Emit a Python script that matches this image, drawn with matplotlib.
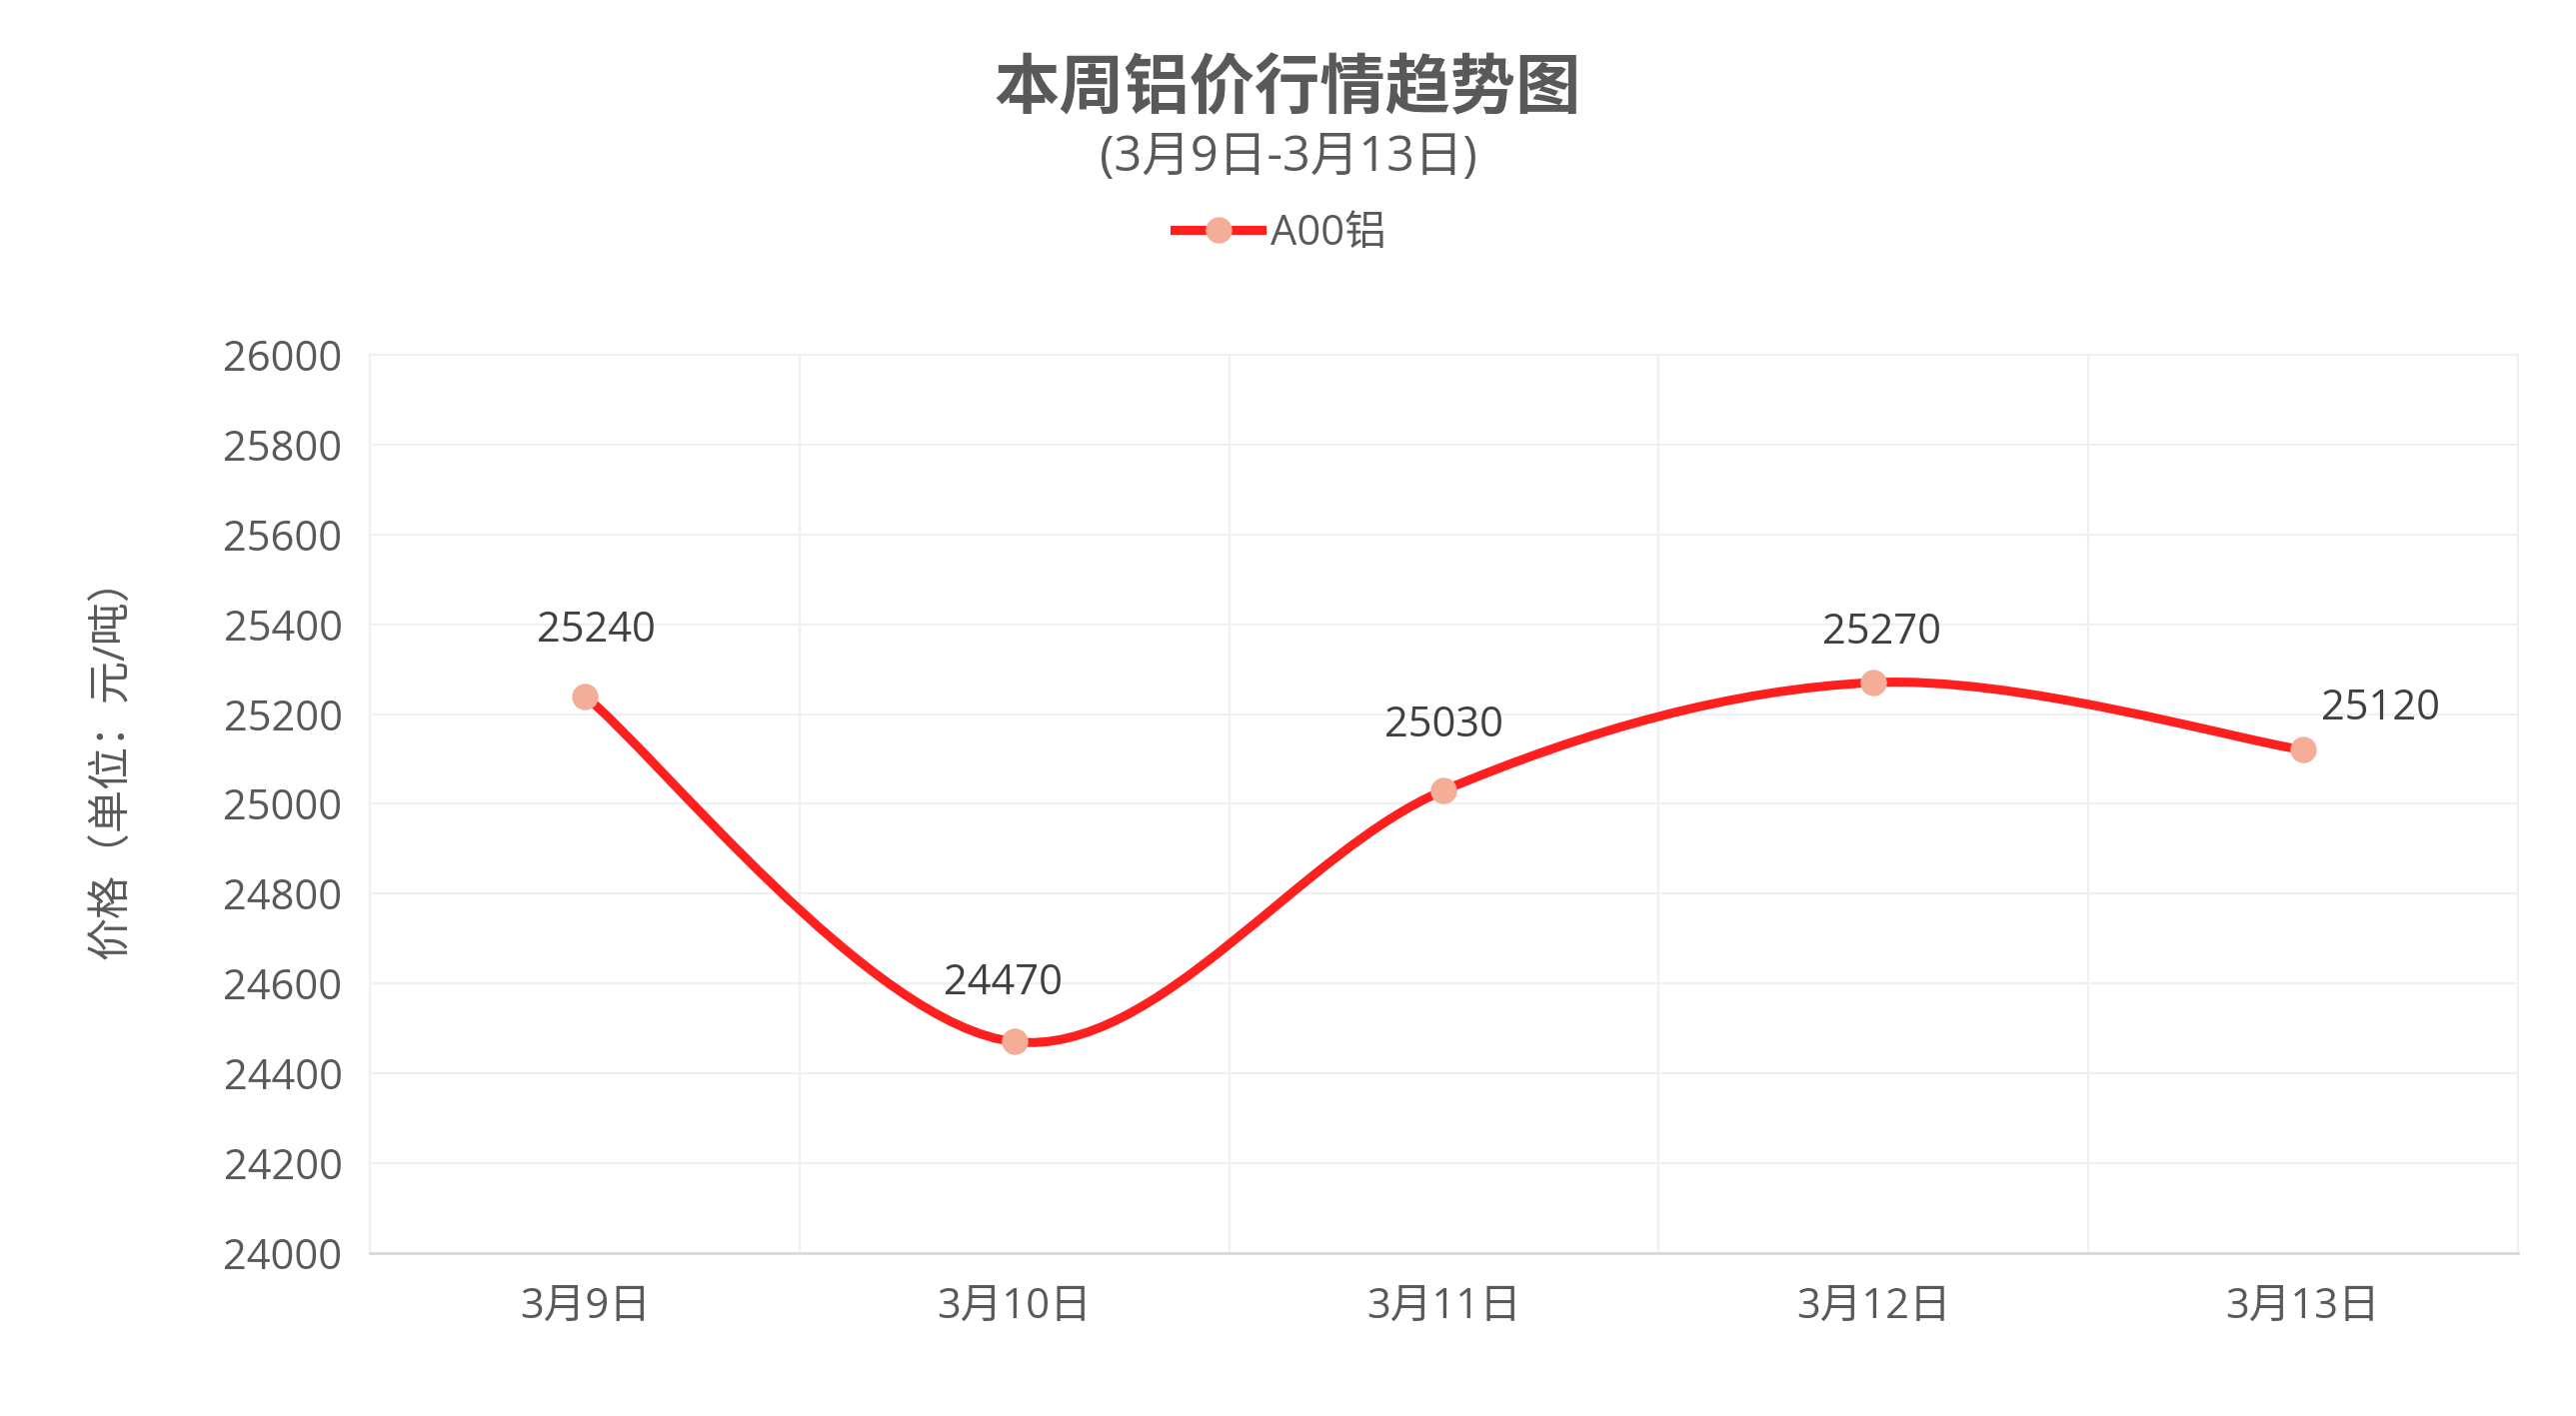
import matplotlib
matplotlib.use("Agg")
import matplotlib.pyplot as plt
from matplotlib.path import Path
from matplotlib.patches import PathPatch
from matplotlib.lines import Line2D
from matplotlib.ticker import MultipleLocator, FixedLocator

plt.rcParams['font.family'] = ['Open Sans', 'Noto Sans CJK SC', 'DejaVu Sans']

# data
dates = ['3月9日', '3月10日', '3月11日', '3月12日', '3月13日']
prices = [25240, 24470, 25030, 25270, 25120]
series_name = 'A00铝'

# label offsets (points) for the value labels
label_dx = [8, -8, 0, 6, 56]
label_dy = [47, 42, 47, 36, 30]

LINE = '#ff1f1f'
MARK = '#f4ae98'
TXT = '#595959'
GRID = '#f0f0f0'

fig = plt.figure(figsize=(25.77, 14.17), dpi=100)
ax = fig.add_axes([0.1437, 0.1153, 0.8336, 0.6341])

x = list(range(len(prices)))

# smooth line: Catmull-Rom spline drawn as cubic bezier segments
pts = list(zip(x, prices))
ext = [pts[0]] + pts + [pts[-1]]
verts = [pts[0]]
codes = [Path.MOVETO]
for i in range(1, len(ext) - 2):
    p0, p1, p2, p3 = ext[i - 1], ext[i], ext[i + 1], ext[i + 2]
    c1 = (p1[0] + (p2[0] - p0[0]) / 6, p1[1] + (p2[1] - p0[1]) / 6)
    c2 = (p2[0] - (p3[0] - p1[0]) / 6, p2[1] - (p3[1] - p1[1]) / 6)
    verts += [c1, c2, p2]
    codes += [Path.CURVE4] * 3
ax.add_patch(PathPatch(Path(verts, codes), fill=False, edgecolor=LINE,
                       lw=6.5, capstyle='round', joinstyle='round', zorder=3))
ax.plot(x, prices, 'o', color=MARK, markersize=18, zorder=4)

for i, v in enumerate(prices):
    ax.annotate(str(v), (x[i], v), xytext=(label_dx[i], label_dy[i]),
                textcoords='offset points', ha='center', va='center',
                fontsize=30, color='#404040', zorder=5)

ax.set_xlim(-0.5, len(prices) - 0.5)
ax.set_ylim(24000, 26000)
ax.yaxis.set_major_locator(MultipleLocator(200))
ax.set_xticks(x)
ax.set_xticklabels(dates)
ax.xaxis.set_minor_locator(FixedLocator([i + 0.5 for i in x[:-1]]))

ax.grid(axis='y', which='major', color=GRID, lw=1.6, zorder=0)
ax.grid(axis='x', which='minor', color=GRID, lw=1.6, zorder=0)
ax.tick_params(which='both', length=0)
ax.tick_params(axis='y', labelsize=30, labelcolor=TXT, pad=20)
ax.tick_params(axis='x', labelsize=30, labelcolor=TXT, pad=24)

for s in ['left', 'right', 'top']:
    ax.spines[s].set_color(GRID)
    ax.spines[s].set_linewidth(1.6)
ax.spines['bottom'].set_color('#d9d9d9')
ax.spines['bottom'].set_linewidth(2)

fig.text(0.044, 0.4647, '价格（单位：元/吨）', rotation=90, ha='center', va='center',
         fontsize=31, color=TXT)

fig.text(0.5, 0.935, '本周铝价行情趋势图', ha='center', va='center',
         fontsize=47, fontweight='bold', color=TXT)
fig.text(0.5, 0.888, '(3月9日-3月13日)', ha='center', va='center',
         fontsize=35, color=TXT)

handle = Line2D([], [], color=LINE, lw=6.5, marker='o', markersize=18,
                markerfacecolor=MARK, markeredgecolor=MARK)
fig.legend([handle], [series_name], loc='center', bbox_to_anchor=(0.497, 0.835),
           frameon=False, fontsize=30, handlelength=2.1, handletextpad=0.2,
           labelcolor=TXT)

fig.savefig('out.png', dpi=100, facecolor='white')
